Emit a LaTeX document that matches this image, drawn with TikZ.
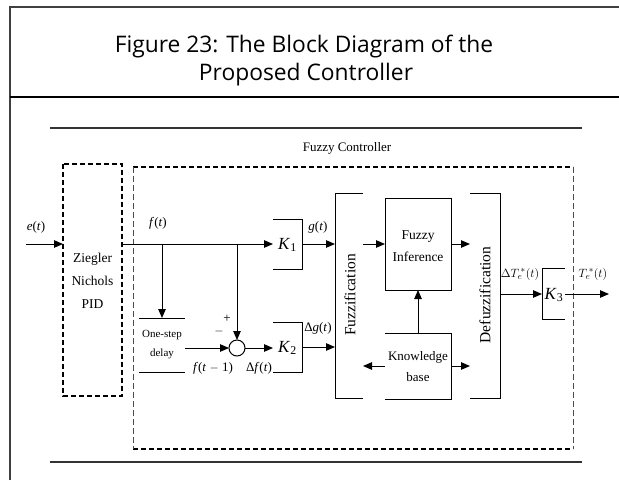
\documentclass[tikz,border=0pt]{standalone}
\usepackage{fontspec}
\setmainfont{Liberation Serif}
\newfontfamily\titlefont{Open Sans}
\usetikzlibrary{arrows.meta}
\begin{document}
\begin{tikzpicture}[x=1pt,y=-1pt,line width=1pt,
  >={Triangle[length=9pt,width=7.5pt]},
  frame/.style={draw=black!75,line width=1.6pt},
  blk/.style={inner sep=0pt,outer sep=0pt},
  lbl/.style={inner sep=0pt,font=\fontsize{13}{15}\selectfont},
  small/.style={inner sep=0pt,font=\fontsize{11}{19}\selectfont,align=center},
  mid/.style={inner sep=0pt,font=\fontsize{12.5}{14}\selectfont,align=center},
  thickdash/.style={line width=1.6pt,dash pattern=on 5pt off 3pt},
  thindash/.style={line width=0.8pt,draw=black!70,dash pattern=on 6pt off 3pt},
  rule/.style={line width=1.4pt,draw=black!80}]
\useasboundingbox (0,0) rectangle (619,480);
\fill[white] (0,0) rectangle (619,480);
% outer frame
\coordinate (ftl) at (10,7);
\coordinate (ftr) at (619,7);
\coordinate (fbl) at (10,480);
\coordinate (sepl) at (10,97);
\coordinate (sepr) at (619,97);
\draw[frame] (fbl) -- (ftl) -- (ftr);
\draw[line width=2pt] (sepl) -- (sepr);
% title
\node[inner sep=0pt,font=\titlefont\fontsize{22.8}{26}\selectfont] (t1) at (304,47) {Figure 23: The Block Diagram of the};
\node[inner sep=0pt,font=\titlefont\fontsize{22.8}{26}\selectfont] (t2) at (306,75) {Proposed Controller};
% horizontal rules of the figure
\coordinate (r1l) at (50,128); \coordinate (r1r) at (582,128);
\coordinate (r2l) at (50,462); \coordinate (r2r) at (582,462);
\draw[rule] (r1l) -- (r1r);
\draw[rule] (r2l) -- (r2r);
% fuzzy controller dashed box
\node[blk,minimum width=440pt,minimum height=282pt] (fc) at (353,308) {};
\draw[thickdash] (fc.north west) -- (fc.north east);
\draw[thickdash] (fc.south west) -- (fc.south east);
\draw[thindash] (fc.north west) -- (fc.south west);
\draw[thindash] (fc.north east) -- (fc.south east);
\node[mid,font=\fontsize{13}{15}\selectfont] (fclbl) at (347,148) {Fuzzy Controller};
% PID
\node[blk,minimum width=59pt,minimum height=232pt] (pid) at (92.5,280) {};
\draw[thickdash] (pid.north west) rectangle (pid.south east);
\node[mid,font=\fontsize{13.5}{23}\selectfont] (pidlbl) at (92.5,281) {Ziegler\\Nichols\\PID};
% K1
\node[blk,minimum width=29pt,minimum height=50pt] (K1) at (287.5,244) {};
\draw (K1.north west) -- (K1.north east) -- (K1.south east) -- (K1.south west);
\node[lbl,font=\fontsize{17}{18}\selectfont] (K1l) at (287.5,245) {\textit{K}\textsubscript{1}};
% K2
\node[blk,minimum width=29pt,minimum height=50pt] (K2) at (287.5,347) {};
\draw (K2.north west) -- (K2.north east) -- (K2.south east) -- (K2.south west);
\node[lbl,font=\fontsize{17}{18}\selectfont] (K2l) at (287.5,348) {\textit{K}\textsubscript{2}};
% delay
\node[blk,minimum width=46pt,minimum height=54pt] (delay) at (162,345) {};
\draw (delay.north west) -- (delay.north east);
\draw (delay.south west) -- (delay.south east);
\node[small] (delaylbl) at (162,345) {One-step\\delay};
% summer
\node[blk,circle,draw,minimum size=16pt] (sum) at (237,348) {};
\node[lbl] (plus) at (227,319) {+};
\node[lbl] (minus) at (219,331) {$-$};
% fuzzification
\node[blk,minimum width=28pt,minimum height=205pt] (fuzz) at (349,295.5) {};
\draw (fuzz.north east) -- (fuzz.north west) -- (fuzz.south west) -- (fuzz.south east);
\node[mid,rotate=90,font=\fontsize{15.5}{17}\selectfont] (fuzzl) at (350,295) {Fuzzification};
% inference
\node[blk,draw,minimum width=66pt,minimum height=92pt] (inf) at (418,244) {};
\node[mid,font=\fontsize{13.5}{22}\selectfont] (infl) at (418,246) {Fuzzy\\Inference};
% knowledge base
\node[blk,minimum width=66pt,minimum height=66pt] (kb) at (418,366) {};
\draw (kb.north west) -- (kb.north east) -- (kb.south east) -- (kb.south west);
\node[mid,font=\fontsize{13}{21}\selectfont] (kbl) at (418,367) {Knowledge\\base};
% defuzzification
\node[blk,minimum width=30pt,minimum height=205pt] (defuzz) at (485,295.5) {};
\draw (defuzz.north west) -- (defuzz.north east) -- (defuzz.south east) -- (defuzz.south west);
\node[mid,rotate=90,font=\fontsize{15.5}{17}\selectfont] (defuzzl) at (485,295) {Defuzzification};
% K3
\node[blk,minimum width=23pt,minimum height=51pt] (K3) at (553.5,294) {};
\draw (K3.north east) -- (K3.north west) -- (K3.south west) -- (K3.south east);
\node[lbl,font=\fontsize{17}{18}\selectfont] (K3l) at (554,295) {\textit{K}\textsubscript{3}};
% connectors
\coordinate (ein) at (26,244);
\coordinate (b1) at (162,244);
\coordinate (b2) at (237,244);
\coordinate (out) at (609,294);
\draw[->] (ein) -- (ein -| pid.west);
\draw[->] (pid.east |- K1.west) -- (K1.west);
\draw[->] (b1) -- (delay.north);
\draw[->] (b2) -- (sum.north);
\draw[->] (delay.east |- sum.west) -- (sum.west);
\draw[->] (sum.east) -- (K2.west |- sum.east);
\draw[->] (K1.east) -- (K1.east -| fuzz.west);
\draw[->] (K2.east) -- (K2.east -| fuzz.west);
\draw[->] (fuzz.east |- inf.west) -- (inf.west);
\draw[->] (inf.east) -- (inf.east -| defuzz.west);
\draw[->] (kb.north) -- (inf.south);
\draw[->] (kb.west) -- (kb.west -| fuzz.east);
\draw[->] (kb.east) -- (kb.east -| defuzz.west);
\draw[->] (defuzz.east |- K3.west) -- (K3.west);
\draw[->] (K3.east) -- (out);
% signal labels
\node[lbl] (el) at (36,227) {\textit{e}(\textit{t})};
\node[lbl] (fl) at (158,223) {\textit{f}(\textit{t})};
\node[lbl] (gl) at (318,227) {\textit{g}(\textit{t})};
\node[lbl] (dgl) at (318,328) {Δ\textit{g}(\textit{t})};
\node[lbl] (fml) at (213,368) {\textit{f}(\textit{t} $-$ 1)};
\node[lbl] (dfl) at (259,368) {Δ\textit{f}(\textit{t})};
\node[lbl] (dTl) at (520,274) {$\Delta T_e^{\,*}(t)$};
\node[lbl] (Tl) at (593,274) {$T_e^{\,*}(t)$};
\end{tikzpicture}
\end{document}
